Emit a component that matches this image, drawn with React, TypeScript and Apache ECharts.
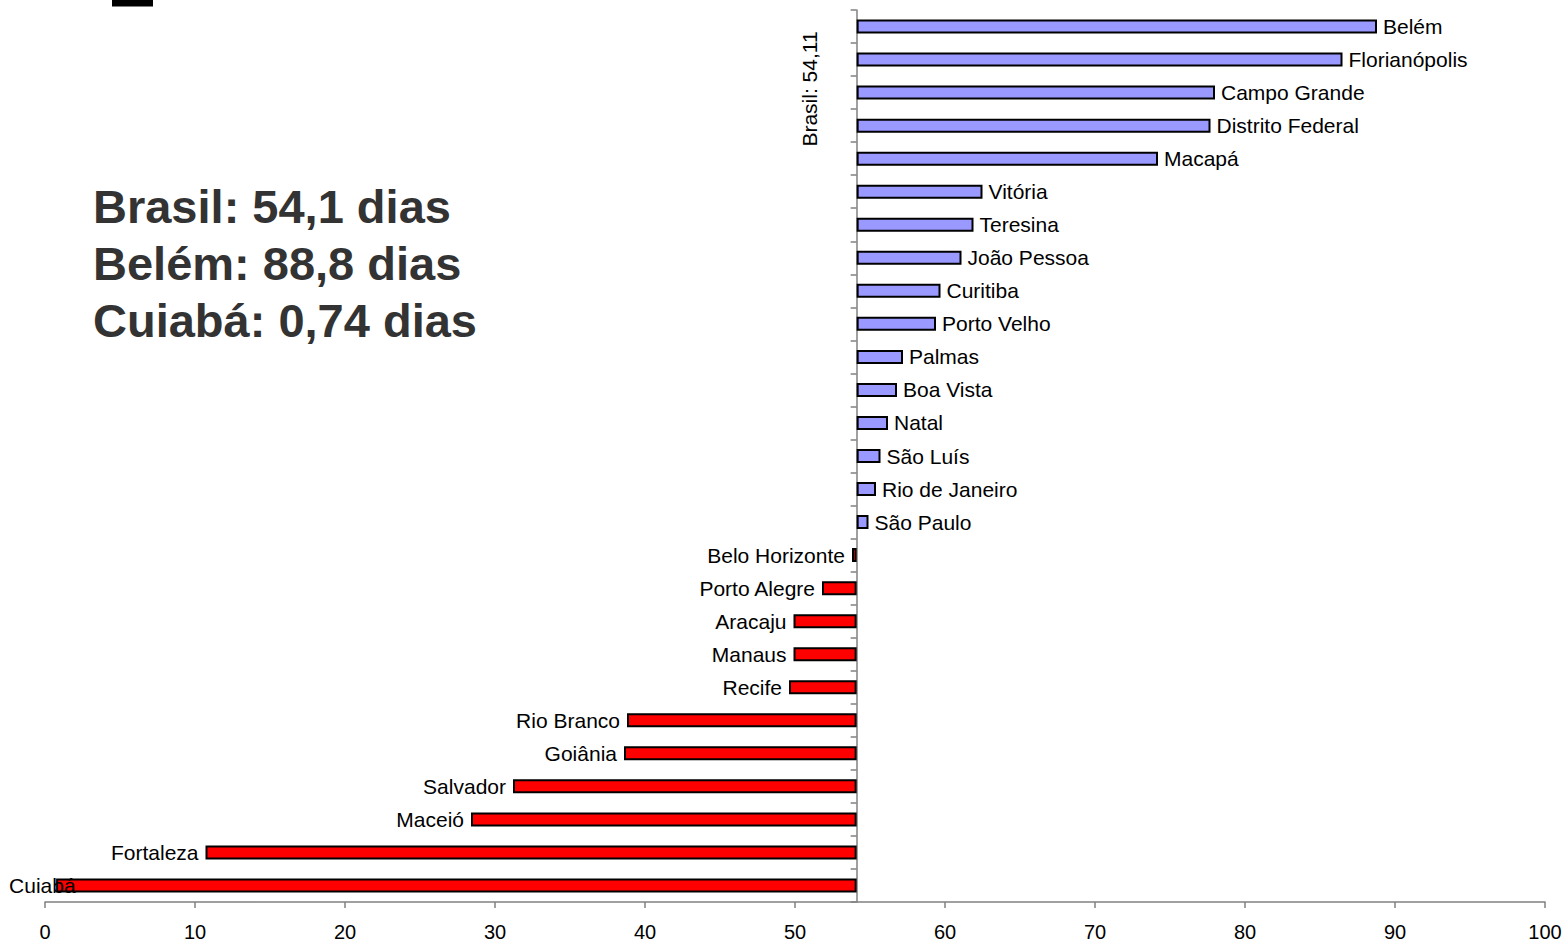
import React, { useEffect, useRef } from "react";
import * as echarts from "echarts";

const BRASIL = 54.11;
const cities = [
  "Belém", "Florianópolis", "Campo Grande", "Distrito Federal", "Macapá", "Vitória",
  "Teresina", "João Pessoa", "Curitiba", "Porto Velho", "Palmas", "Boa Vista", "Natal",
  "São Luís", "Rio de Janeiro", "São Paulo", "Belo Horizonte", "Porto Alegre", "Aracaju",
  "Manaus", "Recife", "Rio Branco", "Goiânia", "Salvador", "Maceió", "Fortaleza", "Cuiabá",
];
const values = [
  88.8, 86.5, 78.0, 77.7, 74.2, 62.5,
  61.9, 61.1, 59.7, 59.4, 57.2, 56.8, 56.2,
  55.7, 55.4, 54.9, 53.8, 51.8, 49.9,
  49.9, 49.6, 38.8, 38.6, 31.2, 28.4, 10.7, 0.74,
];
const summaryLines = ["Brasil: 54,1 dias", "Belém: 88,8 dias", "Cuiabá: 0,74 dias"];
const xMin = 0;
const xMax = 100;
const xInterval = 10;

const FONT = "'Liberation Sans', Arial, sans-serif";

export default function App() {
  const ref = useRef<HTMLDivElement>(null);
  useEffect(() => {
    if (!ref.current) return;
    const chart = echarts.init(ref.current, null, { renderer: "svg" });
    const gridLeft = 45;
    const gridRight = 22;
    const gridWidth = 1567 - gridLeft - gridRight;
    const axisOffset = -((BRASIL - xMin) / (xMax - xMin)) * gridWidth;

    const base = values.map((v) => Math.min(v, BRASIL));
    const pos = values.map((v, i) =>
      v >= BRASIL ? { value: v - BRASIL, name: cities[i] } : "-"
    );
    const neg = values.map((v, i) => {
      if (v >= BRASIL) return "-";
      const item: any = { value: BRASIL - v, name: cities[i] };
      // Label that would not fit on the left edge is pulled in over the bar, as in the original
      if (v < 3) {
        item.label = { position: [-47, 7], align: "left", verticalAlign: "middle" };
      }
      return item;
    });

    chart.setOption({
      animation: false,
      grid: { left: gridLeft, right: gridRight, top: 10, bottom: 42, containLabel: false },
      xAxis: {
        type: "value",
        min: xMin,
        max: xMax,
        interval: xInterval,
        splitLine: { show: false },
        axisLine: { show: true, lineStyle: { color: "#808080", width: 1.5 } },
        axisTick: { show: true, length: 6, lineStyle: { color: "#808080", width: 1.5 } },
        axisLabel: { color: "#000", fontSize: 20, fontFamily: FONT, margin: 20 },
      },
      yAxis: {
        type: "category",
        inverse: true,
        data: cities,
        offset: axisOffset,
        axisLine: { show: true, lineStyle: { color: "#808080", width: 1.5 } },
        axisTick: { show: true, length: 6, interval: 0, lineStyle: { color: "#808080", width: 1.5 } },
        axisLabel: { show: false },
        splitLine: { show: false },
      },
      series: [
        {
          type: "bar",
          stack: "s",
          data: base,
          barWidth: 14,
          itemStyle: { color: "transparent", borderWidth: 0 },
          silent: true,
        },
        {
          type: "bar",
          stack: "s",
          data: pos,
          barWidth: 14,
          itemStyle: { color: "#9999FF", borderColor: "#000", borderWidth: 2 },
          label: {
            show: true,
            position: "right",
            distance: 6,
            formatter: (p: any) => p.name,
            color: "#000",
            fontSize: 21,
            fontFamily: FONT,
          },
        },
        {
          type: "bar",
          stack: "s",
          data: neg,
          barWidth: 14,
          itemStyle: { color: "#FF0000", borderColor: "#000", borderWidth: 2 },
          label: {
            show: true,
            position: "left",
            distance: 7,
            formatter: (p: any) => p.name,
            color: "#000",
            fontSize: 21,
            fontFamily: FONT,
          },
        },
      ],
      graphic: [
        {
          type: "rect",
          shape: { x: 112, y: 0, width: 41, height: 6.5 },
          style: { fill: "#000" },
        },
        {
          type: "text",
          x: 809,
          y: 89,
          rotation: Math.PI / 2,
          style: {
            text: "Brasil: 54,11",
            fill: "#000",
            font: `21px ${FONT}`,
            textAlign: "center",
            textVerticalAlign: "middle",
          },
        },
        ...summaryLines.map((t, i) => ({
          type: "text",
          x: 93,
          y: 206 + i * 57,
          style: {
            text: t,
            fill: "#333333",
            font: `bold 47px ${FONT}`,
            textAlign: "left",
            textVerticalAlign: "middle",
          },
        })),
      ],
    });
    return () => chart.dispose();
  }, []);
  return (
    <div
      ref={ref}
      style={{ position: "fixed", left: 0, top: 0, width: 1567, height: 944, background: "#fff" }}
    />
  );
}
